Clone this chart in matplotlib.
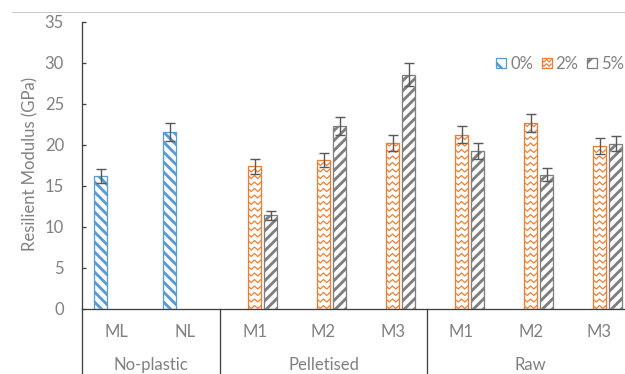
import numpy as np
import matplotlib
matplotlib.use("Agg")
import matplotlib.pyplot as plt
from matplotlib.patches import Patch, Rectangle
from matplotlib.lines import Line2D
from matplotlib.collections import LineCollection
from matplotlib.legend_handler import HandlerPatch
from matplotlib.transforms import blended_transform_factory

# ---------------------------------------------------------------------
# Data: resilient modulus (GPa) with standard-deviation error bars
# ---------------------------------------------------------------------
categories = ["ML", "NL", "M1", "M2", "M3", "M1", "M2", "M3"]
groups = ["No-plastic", "Pelletised", "Raw"]
group_bounds = [0, 2, 5, 8]
series = ["0%", "2%", "5%"]

mod_0pct = [16.2, 21.5, np.nan, np.nan, np.nan, np.nan, np.nan, np.nan]
err_0pct = [0.85, 1.1, np.nan, np.nan, np.nan, np.nan, np.nan, np.nan]
mod_2pct = [np.nan, np.nan, 17.35, 18.1, 20.2, 21.2, 22.6, 19.8]
err_2pct = [np.nan, np.nan, 0.9, 0.9, 1.0, 1.05, 1.1, 0.95]
mod_5pct = [np.nan, np.nan, 11.35, 22.2, 28.5, 19.2, 16.3, 20.1]
err_5pct = [np.nan, np.nan, 0.55, 1.1, 1.4, 0.95, 0.8, 0.95]

BLUE = "#5B9BD5"
ORANGE = "#ED7D31"
GREY = "#7F7F7F"
TEXT = "#808080"
AXIS = "#404040"

W, H, DPI = 625, 374, 100
PX = 72.0 / DPI  # points per pixel
plt.rcParams["font.family"] = ["Lato", "DejaVu Sans"]
plt.rcParams["font.weight"] = "normal"
plt.rcParams["hatch.linewidth"] = 2.0
FS = 12

fig = plt.figure(figsize=(W / DPI, H / DPI), dpi=DPI)
# category slots are 69 px wide; the last one runs past the right edge
slot_px = 69
ax = fig.add_axes([82 / W, (H - 308.5) / H, 8 * slot_px / W, 287 / H])
ax.set_xlim(0, 8)
ax.set_ylim(0, 35)

# data units per pixel, used for the pattern fills
sx = 1.0 / slot_px
sy = 35.0 / 287

x = np.arange(len(categories)) + 0.5
bar_w = 13 * sx
step = 16 * sx


def draw_series(vals, errs, offset, color):
    vals = np.asarray(vals, float)
    errs = np.asarray(errs, float)
    keep = ~np.isnan(vals)
    bars = ax.bar(x[keep] + offset, vals[keep], bar_w, facecolor="white",
                  edgecolor=color, linewidth=1.3 * PX, zorder=2)
    ax.errorbar(x[keep] + offset, vals[keep], yerr=errs[keep], fmt="none",
                ecolor="#595959", elinewidth=1.4 * PX, capsize=5 * PX,
                capthick=1.4 * PX, zorder=4)
    return bars


def add_clipped(segs, rect, color, lw):
    lc = LineCollection(segs, colors=color, linewidths=lw, zorder=3)
    ax.add_collection(lc)
    lc.set_clip_path(rect)


def stripe_fill(rect, color, down=True, period=10, lw=2.9):
    """Wide 45-degree diagonal stripes clipped to a bar."""
    x0, w, h = rect.get_x(), rect.get_width(), rect.get_height()
    w_px, h_px = w / sx, h / sy
    sign = -1 if down else 1
    segs = []
    c = -w_px - period
    while c < h_px + w_px + period:
        xa, xb = -2.0, w_px + 2.0
        ya, yb = c + sign * xa, c + sign * xb
        segs.append([(x0 + xa * sx, ya * sy), (x0 + xb * sx, yb * sy)])
        c += period
    add_clipped(segs, rect, color, lw * PX)


def zigzag_fill(rect, color, period=6.5, amp=3, gap=6.5):
    """Rows of zigzag lines clipped to a bar."""
    x0, w, h = rect.get_x(), rect.get_width(), rect.get_height()
    xs = np.arange(x0 - period * sx, x0 + w + period * sx, period / 2 * sx)
    ups = np.where(np.arange(len(xs)) % 2 == 0, amp * sy, 0.0)
    segs = []
    y = -gap * sy
    while y < h + gap * sy:
        segs.append(np.column_stack([xs, y + ups]))
        y += gap * sy
    add_clipped(segs, rect, color, 1.2 * PX)


bars_0 = draw_series(mod_0pct, err_0pct, -step, BLUE)
bars_2 = draw_series(mod_2pct, err_2pct, 0.0, ORANGE)
bars_5 = draw_series(mod_5pct, err_5pct, step, GREY)
for r in bars_0:
    stripe_fill(r, BLUE, down=True)
for r in bars_2:
    zigzag_fill(r, ORANGE)
for r in bars_5:
    stripe_fill(r, GREY, down=False)

# axes styling
for s in ("top", "right"):
    ax.spines[s].set_visible(False)
for s in ("left", "bottom"):
    ax.spines[s].set_color(AXIS)
    ax.spines[s].set_linewidth(1.3 * PX)
ax.set_yticks(range(0, 36, 5))
ax.tick_params(axis="y", direction="in", length=4 * PX, width=1.3 * PX,
               color=AXIS, labelcolor=TEXT, labelsize=FS, pad=13)
ax.set_xticks([])

# two-level category axis
trans = blended_transform_factory(ax.transData, ax.transAxes)
for xi, lab in zip(x, categories):
    ax.text(xi, -0.082, lab, transform=trans, ha="center", va="center",
            fontsize=FS, color=TEXT)
for g, lo, hi in zip(groups, group_bounds[:-1], group_bounds[1:]):
    ax.text((lo + hi) / 2, -0.197, g, transform=trans, ha="center",
            va="center", fontsize=FS, color=TEXT)
for b in group_bounds:
    ax.plot([b, b], [0, -0.25], transform=trans, color=AXIS, lw=1.3 * PX,
            clip_on=False)

fig.text(30 / W, 1 - 164 / H, "Resilient Modulus (GPa)", rotation=90,
         ha="center", va="center", fontsize=FS, color=TEXT)

# thin chart-area border across the top
fig.add_artist(Line2D([12 / W, 1.0], [1 - 11.5 / H, 1 - 11.5 / H],
                      color="#C8C8C8", lw=1.0 * PX))


class HandlerZigzag(HandlerPatch):
    def create_artists(self, legend, orig_handle, xdescent, ydescent,
                       width, height, fontsize, trans):
        rect = Rectangle((-xdescent, -ydescent), width, height,
                         facecolor="white", edgecolor=ORANGE, lw=1.3 * PX,
                         transform=trans)
        xs = np.linspace(-xdescent, -xdescent + width, 5)
        segs = []
        for yy in np.linspace(-ydescent - height * 0.2, -ydescent + height, 4):
            ys = yy + np.where(np.arange(5) % 2 == 0, height * 0.25, 0.0)
            segs.append(np.column_stack([xs, ys]))
        lc = LineCollection(segs, colors=ORANGE, linewidths=1.2 * PX,
                            transform=trans)
        lc.set_clip_path(rect)
        return [rect, lc]


handles = [
    Patch(facecolor="white", edgecolor=BLUE, hatch="\\\\", lw=1.3 * PX,
          label=series[0]),
    Patch(facecolor="white", edgecolor=ORANGE, label=series[1]),
    Patch(facecolor="white", edgecolor=GREY, hatch="//", lw=1.3 * PX,
          label=series[2]),
]
leg = fig.legend(handles=handles, loc="center left",
                 bbox_to_anchor=(496 / W, 1 - 64 / H), ncol=3, frameon=False,
                 fontsize=FS, handlelength=0.6, handleheight=0.6,
                 handletextpad=0.25, columnspacing=0.5, borderpad=0,
                 borderaxespad=0,
                 handler_map={handles[1]: HandlerZigzag()})
for t in leg.get_texts():
    t.set_color(TEXT)

fig.savefig("out.png", dpi=DPI)
